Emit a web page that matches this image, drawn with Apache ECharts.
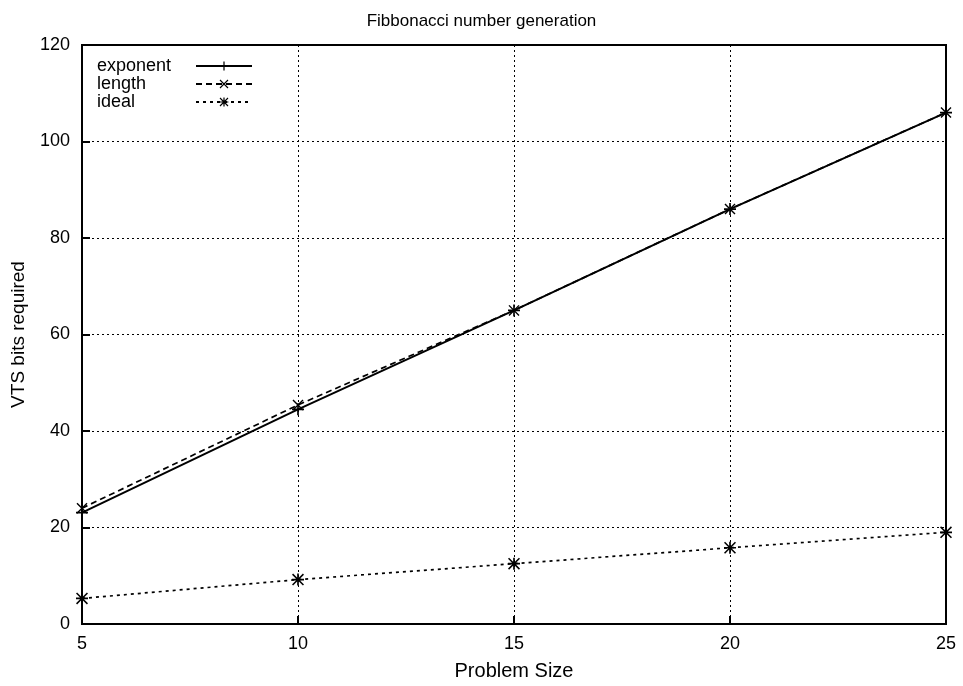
<!DOCTYPE html>
<html>
<head>
<meta charset="utf-8">
<script src="https://cdn.jsdelivr.net/npm/echarts@6/dist/echarts.min.js"></script>
<style>
  html, body { margin: 0; padding: 0; background: #fff; }
  #chart { width: 963px; height: 686px; }
</style>
</head>
<body>
<div id="chart"></div>
<script>
// Problem sizes on the x axis
const problemSizes = [5, 10, 15, 20, 25];
// VTS bits required for each encoding
const exponentBits = [23.1, 44.5, 65, 86, 106];
const lengthBits = [24, 45.4, 65, 86, 106];
const idealBits = [5.3, 9.2, 12.5, 15.8, 19];

const FONT = '"Liberation Sans", Arial, Helvetica, sans-serif';

// Point glyphs built from thin filled bars
const PLUS = 'path://M4.3,0H5.7V10H4.3Z M0,4.3H10V5.7H0Z';
const CROSS = 'path://M0.9,0L10,9.1L9.1,10L0,0.9Z M9.1,0L10,0.9L0.9,10L0,9.1Z';
const STAR = 'path://M4.3,0H5.7V10H4.3Z M0,4.3H10V5.7H0Z M0.9,0L10,9.1L9.1,10L0,0.9Z M9.1,0L10,0.9L0.9,10L0,9.1Z';

function pairs(ys) {
  return problemSizes.map((x, i) => [x, ys[i]]);
}

const chart = echarts.init(document.getElementById('chart'), null, { renderer: 'canvas' });

const gridLine = { show: true, lineStyle: { color: '#000', type: [2, 3], width: 1 } };

chart.setOption({
  backgroundColor: '#fff',
  animation: false,
  title: {
    text: 'Fibbonacci number generation',
    left: 'center',
    top: 8,
    textStyle: { fontFamily: FONT, fontSize: 17, fontWeight: 'normal', color: '#000' }
  },
  grid: {
    left: 82, right: 17, top: 45, bottom: 61,
    show: true, borderColor: '#000', borderWidth: 2, backgroundColor: 'transparent'
  },
  legend: {
    orient: 'vertical',
    left: 92,
    top: 52,
    align: 'right',
    itemWidth: 56,
    itemHeight: 11,
    itemGap: 0,
    formatter: name => '{n|' + name + '}',
    textStyle: {
      fontFamily: FONT, fontSize: 18, color: '#000',
      rich: { n: { fontFamily: FONT, fontSize: 18, lineHeight: 18, color: '#000', width: 94, align: 'left' } }
    },
    data: ['exponent', 'length', 'ideal']
  },
  xAxis: {
    type: 'value',
    min: 5, max: 25, interval: 5,
    name: 'Problem Size',
    nameLocation: 'middle',
    nameGap: 37,
    nameTextStyle: { fontFamily: FONT, fontSize: 20, color: '#000' },
    axisLine: { show: true, lineStyle: { color: '#000', width: 2 } },
    axisTick: { show: true, inside: true, length: 8, lineStyle: { color: '#000', width: 2 } },
    axisLabel: { margin: 11, fontFamily: FONT, fontSize: 18, color: '#000' },
    splitLine: gridLine
  },
  yAxis: {
    type: 'value',
    min: 0, max: 120, interval: 20,
    name: 'VTS bits required',
    nameLocation: 'middle',
    nameGap: 54,
    nameTextStyle: { fontFamily: FONT, fontSize: 19, color: '#000' },
    axisLine: { show: true, lineStyle: { color: '#000', width: 2 } },
    axisTick: { show: true, inside: true, length: 8, lineStyle: { color: '#000', width: 2 } },
    axisLabel: { margin: 12, fontFamily: FONT, fontSize: 18, color: '#000' },
    splitLine: gridLine
  },
  series: [
    {
      name: 'exponent',
      type: 'line',
      data: pairs(exponentBits),
      symbol: PLUS,
      symbolSize: 12,
      itemStyle: { color: '#000' },
      lineStyle: { color: '#000', width: 2, type: 'solid' },
      z: 3
    },
    {
      name: 'length',
      type: 'line',
      data: pairs(lengthBits),
      symbol: CROSS,
      symbolSize: 11,
      itemStyle: { color: '#000' },
      lineStyle: { color: '#000', width: 1.7, type: [6, 4] },
      z: 3
    },
    {
      name: 'ideal',
      type: 'line',
      data: pairs(idealBits),
      symbol: STAR,
      symbolSize: 12,
      itemStyle: { color: '#000' },
      lineStyle: { color: '#000', width: 1.7, type: [3, 4] },
      z: 3
    }
  ]
});
</script>
</body>
</html>
